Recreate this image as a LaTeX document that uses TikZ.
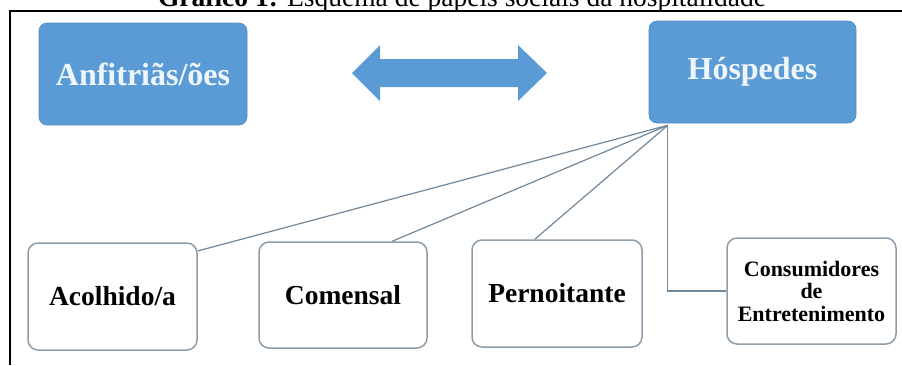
\documentclass[tikz,border=0pt]{standalone}
\usepackage{fontspec}
\setmainfont{Liberation Serif}
\usetikzlibrary{calc}
\definecolor{boxblue}{HTML}{5B9BD5}
\definecolor{boxtext}{HTML}{EEF6FC}
\definecolor{rolebd}{HTML}{8E9DAA}
\definecolor{linkcol}{HTML}{71879A}
\tikzset{
  mainbox/.style={rectangle, rounded corners=8pt, fill=boxblue, draw=boxblue!90!black, line width=0.6pt,
    inner sep=0pt, text=boxtext, font=\bfseries\fontsize{32}{36}\selectfont},
  rolebox/.style={rectangle, rounded corners=10pt, fill=white, draw=rolebd, line width=1.5pt,
    inner sep=0pt, minimum width=169pt, minimum height=106pt, font=\bfseries\fontsize{27.5}{30}\selectfont},
  link/.style={draw=linkcol, line width=1.2pt},
}
\begin{document}
\begin{tikzpicture}[x=1pt,y=-1pt]
\useasboundingbox (0,0) rectangle (902,365);
\begin{scope}
\clip (0,0) rectangle (902,365);
\node[anchor=base, inner sep=0pt, font=\fontsize{27.5}{30}\selectfont] (title) at (462,6)
  {\textbf{Gráfico 1:} Esquema de papéis sociais da hospitalidade};
\end{scope}
\coordinate (frTR) at (902,11);
\coordinate (frTL) at (10,11);
\coordinate (frBL) at (10,365);
\draw[line width=1.6pt] (frTR) -- (frTL) -- (frBL);

\node[mainbox, minimum width=208pt, minimum height=102pt] (anf) at (143,74) {Anfitriãs/ões};
\node[mainbox, minimum width=207pt, minimum height=102pt] (hosp) at (752.5,72) {Hóspedes};

\fill[boxblue] (352,73) -- (380,45) -- (380,59) -- (518,59) -- (518,45) -- (547,73)
  -- (518,101) -- (518,87) -- (380,87) -- (380,101) -- cycle;

\node[rolebox, minimum height=107pt] (acol) at (112.5,296.5) {Acolhido/a};
\node[rolebox, minimum width=168pt] (com) at (343,295) {Comensal};
\node[rolebox, minimum width=170pt, minimum height=107pt] (pern) at (557,293.5) {Pernoitante};
\node[rolebox, align=center, font=\bfseries\fontsize{22}{22.5}\selectfont] (cons) at (811.5,291)
  {Consumidores\\de\\Entretenimento};

\coordinate (hub) at ($(hosp.south west)+(19,2)$);
\draw[link] (hub) -- ($(acol.north east)!0.08!(acol.south east)$);
\draw[link] (hub) -- ($(com.north west)!0.79!(com.north east)$);
\draw[link] (hub) -- ($(pern.north west)!0.37!(pern.north east)$);
\draw[link] (hub) |- (cons.west);
\end{tikzpicture}
\end{document}
